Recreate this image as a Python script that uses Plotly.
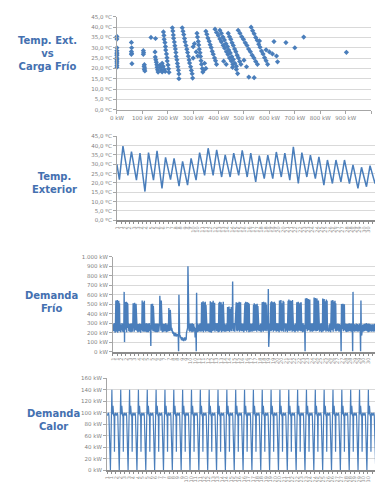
import plotly.graph_objects as go

# ---------------- data ----------------
# Temp. Ext. vs Carga Frío : hourly points (cooling load kW, outdoor temp ºC)
scatter_load_kw = [
    0, 0, 0, 0, 0, 0, 0, 0, 0, 0, 0, 0, 0,
    57, 58, 57, 58, 57, 59,
    104, 105, 104, 108, 107, 109, 108, 110,
    134, 152, 150, 151, 153, 155, 157, 158, 160, 162, 168, 172, 175, 178, 182, 186, 190, 178,
    183, 185, 186, 189, 191, 192, 195, 197, 198, 201, 203, 205,
    218, 220, 222, 223, 226, 228, 230, 232, 233, 236, 238, 240, 242, 244,
    257, 260, 263, 266, 268, 272, 275, 278, 281, 284, 286, 290, 293, 296,
    315, 317, 320, 322, 324, 327, 329, 331, 333, 336, 338,
    350, 354, 358, 363, 367, 371, 375, 379, 384, 388, 392,
    386, 392, 399, 405, 411, 418, 424, 431, 437, 443, 450, 456,
    405, 411, 417, 423, 429, 435, 440, 446, 452, 458, 464, 470,
    438, 443, 448, 453, 458, 463, 468, 473, 478, 483, 488,
    477, 484, 491, 498, 505, 512, 518, 525, 532, 539, 546, 553,
    528, 534, 540, 546, 552, 558, 563, 569, 575, 581, 587, 593,
    305, 300, 312, 318, 300, 345, 350, 342, 298, 244,
    475, 470, 455, 430, 420, 519, 540, 510, 500,
    561, 587, 600, 612, 618, 628, 632, 665, 700, 735, 903,
]
scatter_temp_c = [
    35.5, 34.2, 30.0, 28.6, 27.5, 27.0, 26.2, 25.0, 24.3, 23.5, 22.6, 21.5, 20.6,
    32.6, 30.0, 28.2, 27.3, 26.8, 22.3,
    28.6, 27.6, 26.8, 21.8, 21.0, 20.2, 19.5, 18.8,
    35.0, 34.5, 28.0, 25.5, 24.2, 23.0, 21.8, 20.5, 19.3, 18.2, 21.5, 20.2, 19.0, 18.3, 21.0, 19.6, 18.5, 22.5,
    37.7, 36.0, 34.1, 32.5, 30.6, 28.9, 27.0, 25.2, 23.6, 21.7, 19.8, 18.1,
    39.7, 38.1, 36.2, 34.6, 32.8, 31.0, 29.4, 27.7, 25.8, 24.2, 22.4, 20.8, 19.1, 17.3,
    39.7, 38.0, 36.4, 34.5, 32.9, 31.1, 29.3, 27.7, 25.9, 24.1, 22.6, 20.8, 19.0, 17.4,
    37.0, 35.2, 33.1, 31.4, 29.3, 27.6, 25.8, 23.7, 22.0, 19.9, 18.2,
    38.0, 36.5, 34.7, 33.2, 31.5, 30.1, 28.3, 26.9, 25.1, 23.7, 22.0,
    39.0, 37.4, 36.0, 34.3, 32.9, 31.2, 29.8, 28.1, 26.7, 25.0, 23.6, 22.0,
    38.5, 37.0, 35.2, 33.8, 32.0, 30.6, 28.9, 27.5, 25.7, 24.3, 22.5, 21.0,
    37.0, 35.4, 34.1, 32.4, 31.1, 29.4, 28.1, 26.4, 25.1, 23.4, 22.0,
    38.5, 37.1, 35.4, 34.1, 32.4, 31.1, 29.4, 28.1, 26.4, 25.1, 23.4, 22.0,
    40.0, 38.3, 36.8, 35.0, 33.6, 31.7, 30.3, 28.4, 27.0, 25.2, 23.7, 22.0,
    32.0, 30.5, 28.0, 26.0, 25.0, 22.5, 20.0, 19.2, 15.3, 15.0,
    17.5, 19.5, 20.5, 22.0, 23.5, 15.8, 15.5, 20.8, 24.0,
    33.3, 29.0, 28.0, 27.0, 33.0, 26.0, 23.2, 32.5, 30.0, 35.2, 27.8,
]

# Temp. Exterior : reading at 00:00 of day 1, then daily minimum (07:00) and maximum (17:00)
temp_start_c = 30.0
temp_min_hour = 7
temp_max_hour = 17
temp_min_c = [21.8, 24.1, 21.5, 15.4, 21.5, 17.1, 21.8, 18.3, 18.8, 21.5, 24.1,
              24.1, 23.2, 23.2, 24.1, 23.2, 20.6, 22.3, 22.3, 23.2, 21.5, 19.7,
              23.2, 22.3, 18.8, 19.7, 20.6, 19.7, 17.1, 18.0, 19.7]
temp_max_c = [39.8, 36.8, 36.0, 36.3, 37.2, 33.7, 33.2, 31.6, 33.2, 36.3, 38.6,
              37.7, 35.1, 36.0, 37.5, 36.0, 34.6, 34.9, 36.6, 36.0, 39.3, 36.3,
              34.9, 34.0, 32.3, 32.3, 32.3, 29.7, 28.4, 29.3, 30.0]

# Demanda Frío : hourly cooling demand (kW), one row per day
cooling_kw_by_day = [
    [290, 250, 215, 300, 230, 285, 200, 300, 540, 210, 530, 220, 545, 200, 520, 230, 535, 215, 510, 240, 295, 205, 280, 230],
    [250, 300, 210, 285, 225, 295, 205, 630, 100, 520, 215, 510, 230, 525, 205, 515, 220, 500, 250, 300, 215, 290, 210, 275],
    [225, 295, 205, 280, 220, 300, 210, 275, 510, 220, 500, 210, 515, 230, 495, 225, 505, 240, 295, 215, 285, 205, 290, 225],
    [285, 210, 295, 220, 280, 200, 290, 230, 260, 540, 215, 530, 225, 520, 210, 535, 240, 295, 210, 285, 225, 300, 205, 280],
    [230, 295, 205, 285, 220, 300, 215, 280, 240, 60, 500, 220, 490, 230, 505, 215, 480, 250, 290, 210, 285, 225, 295, 205],
    [280, 215, 295, 205, 290, 225, 285, 210, 250, 300, 590, 230, 560, 220, 540, 240, 285, 205, 295, 220, 280, 210, 290, 225],
    [215, 290, 220, 295, 205, 285, 230, 280, 210, 295, 260, 460, 220, 450, 230, 440, 240, 270, 215, 250, 200, 230, 190, 210],
    [180, 205, 165, 200, 175, 160, 195, 170, 190, 160, 185, 170, 165, 180, 0, 600, 180, 160, 175, 150, 140, 155, 120, 135],
    [130, 150, 115, 140, 110, 145, 120, 150, 135, 115, 150, 125, 200, 240, 210, 250, 900, 700, 270, 220, 295, 210, 285, 230],
    [295, 215, 285, 205, 300, 225, 280, 210, 290, 220, 260, 230, 150, 240, 250, 0, 620, 285, 205, 295, 220, 285, 210, 280],
    [230, 295, 215, 300, 210, 285, 520, 215, 505, 230, 530, 205, 515, 240, 500, 220, 525, 210, 490, 235, 295, 215, 285, 225],
    [290, 210, 295, 220, 285, 205, 530, 225, 515, 200, 520, 235, 500, 215, 535, 225, 505, 240, 515, 210, 285, 300, 215, 280],
    [215, 300, 225, 285, 205, 295, 515, 210, 525, 235, 495, 220, 520, 205, 510, 230, 500, 215, 525, 240, 280, 210, 295, 220],
    [295, 210, 285, 220, 300, 215, 470, 220, 455, 240, 475, 210, 460, 230, 450, 225, 470, 215, 465, 240, 740, 275, 215, 290],
    [220, 300, 210, 290, 215, 285, 520, 230, 505, 215, 515, 240, 495, 225, 525, 210, 500, 235, 520, 220, 300, 215, 285, 230],
    [295, 215, 280, 205, 300, 225, 510, 220, 525, 235, 500, 210, 520, 230, 495, 225, 515, 205, 505, 240, 285, 210, 295, 220],
    [225, 290, 210, 300, 220, 285, 495, 215, 510, 230, 485, 220, 500, 240, 490, 210, 505, 225, 480, 235, 295, 215, 280, 225],
    [285, 215, 295, 205, 290, 220, 520, 225, 505, 210, 525, 235, 500, 220, 515, 240, 510, 215, 495, 230, 280, 295, 215, 660],
    [50, 285, 210, 295, 215, 290, 520, 215, 530, 230, 505, 225, 520, 210, 500, 235, 525, 220, 510, 240, 290, 210, 300, 225],
    [290, 215, 300, 225, 285, 205, 540, 225, 520, 240, 545, 215, 530, 230, 510, 220, 535, 210, 525, 245, 280, 300, 210, 290],
    [215, 295, 220, 285, 205, 290, 535, 220, 550, 235, 520, 215, 540, 225, 515, 240, 530, 210, 545, 230, 295, 215, 285, 210],
    [285, 205, 295, 215, 300, 220, 520, 230, 505, 210, 525, 240, 510, 220, 500, 235, 515, 215, 520, 225, 215, 290, 205, 300],
    [225, 295, 210, 285, 220, 0, 560, 220, 545, 235, 565, 215, 540, 230, 555, 225, 535, 240, 550, 210, 295, 220, 300, 215],
    [290, 210, 300, 225, 285, 215, 570, 225, 555, 240, 565, 215, 545, 230, 560, 220, 550, 235, 540, 245, 280, 210, 290, 220],
    [215, 300, 225, 205, 290, 220, 560, 215, 540, 230, 555, 225, 545, 240, 530, 210, 550, 235, 535, 220, 300, 225, 210, 285],
    [285, 215, 295, 220, 205, 300, 540, 225, 520, 235, 545, 210, 525, 230, 515, 240, 535, 215, 510, 225, 215, 290, 220, 280],
    [295, 220, 280, 210, 290, 225, 215, 285, 220, 0, 500, 220, 490, 235, 505, 215, 485, 230, 500, 225, 285, 215, 295, 210],
    [280, 215, 290, 225, 210, 295, 220, 285, 225, 300, 215, 290, 230, 210, 295, 225, 285, 0, 630, 215, 280, 290, 225, 210],
    [285, 220, 230, 295, 215, 225, 290, 230, 210, 285, 225, 215, 295, 230, 220, 0, 540, 180, 170, 200, 225, 285, 210, 280],
    [225, 290, 215, 280, 295, 220, 285, 225, 300, 215, 290, 230, 205, 285, 295, 225, 210, 290, 230, 215, 285, 225, 210, 280],
    [280, 215, 285, 225, 210, 290, 225, 215, 295, 230, 210, 285, 225, 215, 290, 230, 225, 210, 285, 230, 215, 225, 290, 225],
]

# Demanda Calor : hourly heating demand (kW) of a typical day, same schedule every day
heat_profile_kw = [97, 95, 99, 96, 100, 95, 70, 45, 20, 0, 35, 80,
                   120, 140, 97, 100, 112, 96, 94, 98, 32, 95, 100, 97]

days = list(range(1, 32))
day_labels = [str(d) for d in days]

temp_ticks_c = [0, 5, 10, 15, 20, 25, 30, 35, 40, 45]
temp_tick_text = ["0,0 ºC", "5,0 ºC", "10,0 ºC", "15,0 ºC", "20,0 ºC",
                  "25,0 ºC", "30,0 ºC", "35,0 ºC", "40,0 ºC", "45,0 ºC"]
load_ticks_kw = [0, 100, 200, 300, 400, 500, 600, 700, 800, 900, 1000]
load_tick_text = ["0 kW", "100 kW", "200 kW", "300 kW", "400 kW", "500 kW",
                  "600 kW", "700 kW", "800 kW", "900 kW", "1.000 kW"]
heat_ticks_kw = [0, 20, 40, 60, 80, 100, 120, 140, 160]
heat_tick_text = ["0 kW", "20 kW", "40 kW", "60 kW", "80 kW", "100 kW",
                  "120 kW", "140 kW", "160 kW"]

# ---------------- series assembly ----------------
n_hours = 24 * len(days)
hours = list(range(n_hours))

temp_hours = [0]
temp_values = [temp_start_c]
for i in range(len(days)):
    temp_hours += [24 * i + temp_min_hour, 24 * i + temp_max_hour]
    temp_values += [temp_min_c[i], temp_max_c[i]]

cooling_kw = [v for row in cooling_kw_by_day for v in row]
heating_kw = heat_profile_kw * len(days)

time_tickvals = list(range(0, n_hours, 12))
time_ticktext = [day_labels[h // 24] for h in time_tickvals]

# ---------------- styling ----------------
W, H = 375, 482
BLUE = "#4A7EBB"
LABEL_BLUE = "#4470B0"
GRID = "#D9D9D9"
AXIS = "#A6A6A6"
TICK_FONT = dict(family="DejaVu Sans", size=5.5, color="#7F7F7F")


def px_x(p):
    return p / W


def px_y(p):
    return 1 - p / H


fig = go.Figure()

fig.add_trace(go.Scatter(
    x=scatter_load_kw, y=scatter_temp_c, mode="markers",
    marker=dict(symbol="diamond", size=4, color=BLUE),
    cliponaxis=False, xaxis="x", yaxis="y", showlegend=False))

fig.add_trace(go.Scatter(
    x=temp_hours, y=temp_values, mode="lines",
    line=dict(color=BLUE, width=1.5),
    xaxis="x2", yaxis="y2", showlegend=False))

fig.add_trace(go.Scatter(
    x=hours, y=cooling_kw, mode="lines",
    line=dict(color=BLUE, width=1.4),
    xaxis="x3", yaxis="y3", showlegend=False))

fig.add_trace(go.Scatter(
    x=hours, y=heating_kw, mode="lines",
    line=dict(color=BLUE, width=1.2),
    xaxis="x4", yaxis="y4", showlegend=False))


def value_axis(domain, rng, vals, text, anchor):
    return dict(domain=domain, range=rng, tickvals=vals, ticktext=text,
                tickfont=TICK_FONT, showgrid=True, gridcolor=GRID, gridwidth=1,
                zeroline=False, showline=True, linecolor=AXIS, linewidth=1,
                ticks="outside", ticklen=3, tickcolor=AXIS, anchor=anchor,
                fixedrange=True)


def time_axis(left_px, anchor):
    return dict(domain=[px_x(left_px), 1.0], range=[0, 727],
                tickvals=time_tickvals, ticktext=time_ticktext, tickangle=-90,
                tickfont=dict(family="DejaVu Sans", size=5, color="#8C8C8C"),
                showgrid=False, zeroline=False, showline=True,
                linecolor="#8C8C8C", linewidth=2, ticks="outside", ticklen=2,
                tickcolor="#8C8C8C", anchor=anchor, fixedrange=True)


fig.update_layout(
    width=W, height=H, autosize=False,
    margin=dict(l=0, r=0, t=0, b=0),
    paper_bgcolor="white", plot_bgcolor="white",
    xaxis=dict(domain=[px_x(112), px_x(371)], range=[0, 1000],
               tickvals=load_ticks_kw, ticktext=load_tick_text, tickfont=TICK_FONT,
               tickangle=0,
               showgrid=False, zeroline=False, showline=True, linecolor=AXIS,
               ticks="outside", ticklen=3, tickcolor=AXIS, anchor="y",
               fixedrange=True),
    yaxis=value_axis([px_y(108), px_y(14)], [0, 45], temp_ticks_c, temp_tick_text, "x"),
    xaxis2=time_axis(112, "y2"),
    yaxis2=value_axis([px_y(220), px_y(135)], [0, 45], temp_ticks_c, temp_tick_text, "x2"),
    xaxis3=time_axis(108, "y3"),
    yaxis3=value_axis([px_y(353), px_y(257)], [0, 1000], load_ticks_kw, load_tick_text, "x3"),
    xaxis4=time_axis(102, "y4"),
    yaxis4=value_axis([px_y(473), px_y(380)], [0, 160], heat_ticks_kw, heat_tick_text, "x4"),
)

panel_titles = [
    ("Temp. Ext.<br>vs<br>Carga Frío", 41, 51),
    ("Temp.<br>Exterior", 48, 182),
    ("Demanda<br>Frío", 45, 303),
    ("Demanda<br>Calor", 47, 422),
]
for text, cx, cy in panel_titles:
    fig.add_annotation(text=text, xref="paper", yref="paper",
                       x=px_x(cx), y=px_y(cy), xanchor="center", yanchor="middle",
                       showarrow=False, align="center",
                       font=dict(family="DejaVu Sans", size=10, color=LABEL_BLUE,
                                 weight="bold"))

fig.write_html("out.html", config={"displayModeBar": False})
